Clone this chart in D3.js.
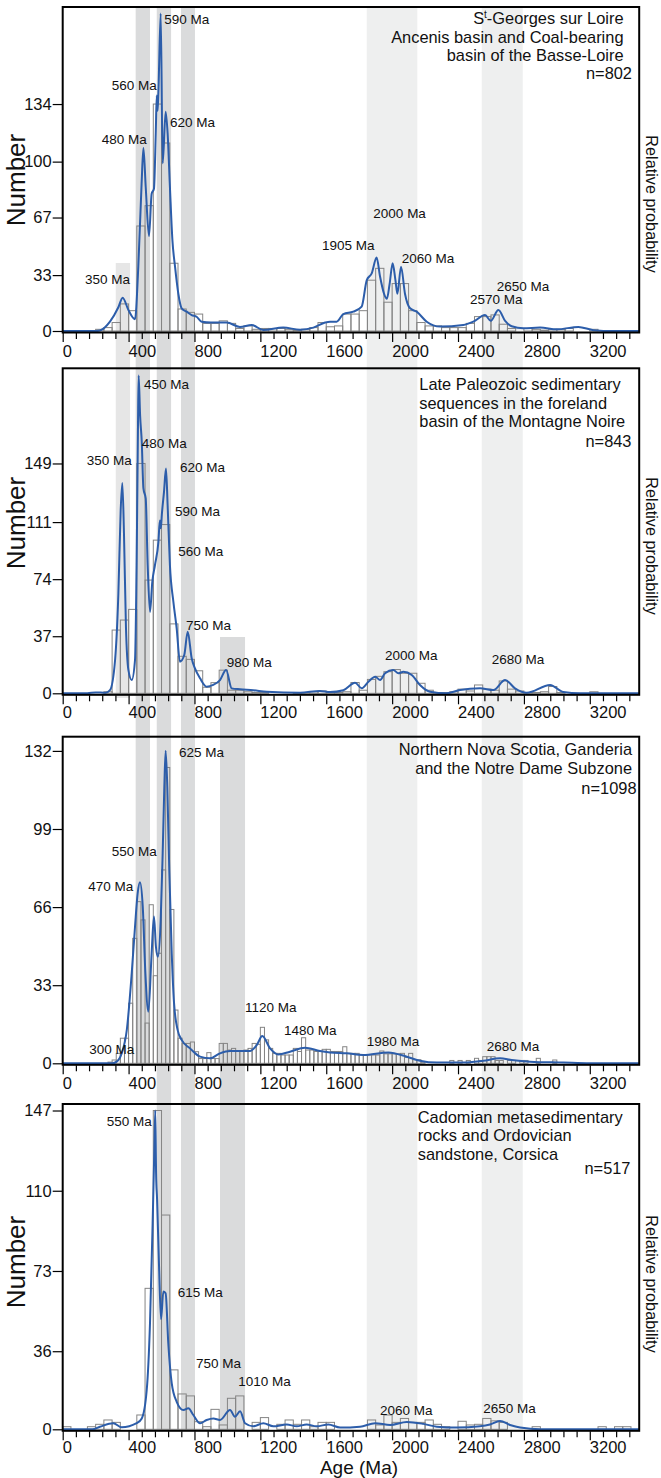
<!DOCTYPE html>
<html><head><meta charset="utf-8">
<script src="https://cdn.jsdelivr.net/npm/d3@7"></script>
<style>body{margin:0;background:#fff}text{font-family:"Liberation Sans",Arial,Helvetica,sans-serif;fill:#111}</style>
</head><body><svg id="c" width="661" height="1478"></svg>
<script>
// ---------------- DATA ----------------
const xMajorTicks = [0,400,800,1200,1600,2000,2400,2800,3200];
const xMinorTicks = d3.range(80,3500,80).filter(v=>v%400!==0);
const yTicks1 = [0,33,67,100,134];
const yTicks2 = [0,37,74,111,149];
const yTicks3 = [0,33,66,99,132];
const yTicks4 = [0,36,73,110,147];

// histograms: [start age, bin width, counts...]
const hist1Start = 200, hist1Width = 50;
const hist1 = [1,2,5,16,12,62,74,134,111,40,13,11,10,4.5,4.5,6,4.5,1.5,3,1,1.5,1.5,1.5,1,0.5,1,2,5,2.5,3,10,10,12,30,37,17,28,28,12,5,3,3,2,2,2,4.5,8.5,8.5,9.5,4,1.5,0,1.5,1,0.5,1,1,1.5,0,0,1];
const hist2Start = 250, hist2Width = 50;
const hist2 = [1,41,47.5,54.4,149,73.4,99.3,109.4,45,24,22,14.6,3.9,6.9,15,2,2,1,0.5,0.5,0,0,0,0.5,0.5,1,1.5,0.5,0.5,1,7,2,9,11,14,15.4,13,13,6.5,2,0.5,0.5,1,2.7,1.5,5.4,2.7,2,8,2.7,1.5,0.5,0.5,1,4.4,0.5,0,0,0,1];
const hist3Start = 275, hist3Width = 25;
const hist3 = [0.5,1.4,4.2,10.6,10.6,25.4,52.8,68.3,60.6,17,67,37,46.5,81.7,125,65,22.5,10.6,8.4,8.4,9,4.9,2,2,4.5,2,2,8.4,8.4,5.6,6.3,5,5,5.6,6.3,8.4,8,15.2,9.9,6.3,4.2,4.2,3.5,3.5,3.5,6.3,5,10.8,5.6,5.6,5,5,5.9,5.9,5,5,5,7,4.2,4.2,4.2,3.5,3.5,3.5,3.5,3.5,5.2,4,4,4,4,4.2,2.5,4.2,1.5,1.5,0.5,0,0,0,0,0,0,1.2,0,1.2,0,1.2,0,2.1,1.2,2.8,2.8,2.8,1.2,1.2,0,1.2,1.2,0,1.2,1.2,0,0,2.1,0,0,0,1.4];
const hist4Start = 0, hist4Width = 50;
const hist4 = [1.2,0,0,1.2,2.3,4.3,3.2,0,0,6.6,65,147,98.8,27.4,16.3,15.4,3.5,1.2,9.2,2,14.3,15.4,0,3.2,5.4,0,2.3,4.3,2.3,4.3,1.2,3.2,3.2,0,0,0,0,4.3,2,6.6,3.2,5,3.2,3.2,4.3,2.3,1.2,0,3.7,2,2.3,5,3.9,3.2,0,0,0,1.2,0,0,0,0,0,0,0,1.2,0,1.2,1.2];

// probability curves: [age, value on count axis]
const curve1 = [[0,0],[200,0],[226,0.3],[287,5.5],[338,14],[364,19.7],[399,12.4],[439,7],[459,38],[479,87],[490,108],[504,85],[524,56],[540,81],[554,84],[565,117],[571,139],[576,130],[581,141],[595,187.5],[607,99],[625,129.5],[637,116.7],[651,85],[666,53.7],[682,38],[702,22],[722,13.4],[753,11.4],[783,9.4],[813,8.4],[844,5.5],[900,5],[996,5],[1076,2.4],[1147,3.5],[1218,0.6],[1339,2],[1441,0.8],[1522,2],[1593,5],[1623,5.5],[1663,5.5],[1704,10],[1764,11.4],[1815,14.4],[1846,30],[1876,34],[1906,43.4],[1926,32.5],[1951,22],[1968,19],[1985,28],[2003,40],[2020,30],[2032,22],[2054,38],[2078,22],[2109,13.4],[2149,11.4],[2210,5.5],[2291,2.6],[2432,3.5],[2493,5.5],[2564,9.4],[2599,6],[2645,12.4],[2686,6],[2726,2.8],[2797,1.6],[2898,2],[3000,1],[3131,2.4],[3222,0.5],[3343,0],[3500,0]];
const curve2 = [[0,0],[150,0],[200,0.6],[260,0.3],[287,2],[318,21.6],[338,64.7],[352,118.7],[362,136.4],[372,103.6],[384,43],[399,15],[419,8.6],[439,21.6],[449,86],[457,172.7],[461,206],[470,180],[480,163],[490,132.8],[504,126.3],[516,83],[530,52.8],[544,72.3],[560,83],[581,98.2],[590,112],[596,107],[602,116],[615,130.6],[627,145.7],[637,122],[651,83],[672,59.3],[692,42],[712,20.5],[738,24.8],[759,39.9],[783,22.7],[803,16.2],[834,9.7],[874,4.3],[914,5.4],[955,8.6],[992,15.1],[1026,3.2],[1077,2.6],[1157,2],[1239,1],[1441,0.4],[1562,1.5],[1623,0.8],[1704,2],[1775,6.9],[1815,3.2],[1856,7.5],[1897,10.8],[1927,8.6],[1957,13],[2007,15.1],[2038,13],[2068,14],[2119,11.9],[2169,5.4],[2230,1],[2331,0],[2412,2.1],[2534,3.2],[2615,2.1],[2686,8.6],[2746,3.2],[2817,0.3],[2959,5.4],[3039,0.8],[3141,0],[3500,0]];
const curve3 = [[0,0],[300,0],[328,0.7],[358,4.2],[389,14],[419,38],[439,57.7],[455,71.8],[469,76.5],[486,66.2],[502,38],[520,21.8],[540,46.5],[554,62],[566,49.3],[578,45],[595,60.6],[607,88.8],[617,116.9],[625,132.1],[635,116.9],[647,81.7],[662,46.5],[676,25.4],[698,14],[722,9.9],[773,6.3],[834,2.8],[894,2.1],[955,4.2],[1016,5.2],[1137,5.2],[1178,7.7],[1212,11.5],[1259,6.3],[1309,3.7],[1380,4.9],[1471,6.6],[1562,5.2],[1623,4.6],[1724,4.2],[1825,3.5],[1977,4.6],[2089,2.8],[2169,1.1],[2271,0.3],[2432,0.3],[2554,1.1],[2655,2.1],[2726,1.4],[2837,0.7],[3039,0.3],[3200,0],[3500,0]];
const curve4 = [[0,0],[180,0],[226,1.2],[307,2.8],[358,0.9],[449,2.8],[480,5],[510,18],[530,48.9],[546,95],[556,128],[562,147],[567,118],[573,106],[585,75],[597,50.7],[611,63.5],[625,62.7],[641,39.7],[662,21.2],[692,12.7],[733,8.9],[763,9.7],[793,6.6],[834,2.8],[874,4.3],[915,5],[955,4.3],[1016,8.9],[1046,5.8],[1077,8.3],[1107,2.8],[1157,1.4],[1218,2.8],[1279,1.4],[1360,2.2],[1421,1.4],[1481,2.2],[1542,1.4],[1613,2.2],[1684,0.8],[1805,1.2],[1897,2.8],[1988,2],[2089,3.4],[2189,2.5],[2271,1.2],[2392,0.8],[2534,1.4],[2594,2.2],[2655,3.8],[2716,2],[2777,0.8],[2900,0],[3500,0]];

// peak labels: [text, age at label start, value at baseline]
const peaks1 = [["590 Ma",617,181.5],["560 Ma",297.5,142.3],["620 Ma",651.5,120.4],["480 Ma",236.8,110.7],["350 Ma",135.4,27.7],["1905 Ma",1574,47.8],["2000 Ma",1886,66.7],["2060 Ma",2058,40.1],["2650 Ma",2635,23.8],["2570 Ma",2473,16.2]];
const peaks2 = [["450 Ma",493.6,197.5],["480 Ma",479.7,158.9],["350 Ma",145.7,147.9],["620 Ma",712.2,143.3],["590 Ma",681.8,114.8],["560 Ma",701.9,88.9],["750 Ma",748.6,41],["980 Ma",995.7,17],["2000 Ma",1957,21.6],["2680 Ma",2605,19]];
const peaks3 = [["625 Ma",706.1,129.5],["550 Ma",297.5,87.6],["470 Ma",155.4,72.8],["1120 Ma",1107,21.7],["1480 Ma",1344,12],["300 Ma",161.5,3.9],["1980 Ma",1846,7.1],["2680 Ma",2574,5.2]];
const peaks4 = [["550 Ma",267.2,140],["615 Ma",698.2,61.2],["750 Ma",809.3,28.3],["1010 Ma",1066,20.1],["2060 Ma",1926.5,6.6],["2650 Ma",2553.7,7.5]];

const titles1 = ["S|t|-Georges sur Loire","Ancenis basin and Coal-bearing","basin of the Basse-Loire"];
const titles2 = ["Late Paleozoic sedimentary","sequences in the foreland","basin of the Montagne Noire"];
const titles3 = ["Northern Nova Scotia, Ganderia","and the Notre Dame Subzone"];
const titles4 = ["Cadomian metasedimentary","rocks and Ordovician","sandstone, Corsica"];
const nLabels = ["n=802","n=843","n=1098","n=517"];

// age bands (Ma)
const bandAges = [[322,409],[443,530],[571,658],[718,803],[955,1107],[1846,2153],[2544,2793]];

// ---------------- LAYOUT ----------------
const svg = d3.select("#c");
svg.append("rect").attr("width",661).attr("height",1478).attr("fill","#fff");
const x = d3.scaleLinear().domain([0,3500]).range([62.7,639.2]);

const bandStyle = [
  {y1:263,y2:698,fill:"#e6e6e6"},
  {y1:7,y2:1066,fill:"#dadbdc"},
  {y1:7,y2:1431,fill:"#dadbdc"},
  {y1:7,y2:1431,fill:"#dadbdc"},
  {y1:637,y2:1431,fill:"#dadbdc"},
  {y1:7,y2:1431,fill:"#eeefef"},
  {y1:7,y2:1431,fill:"#eeefef"}
];
svg.append("g").selectAll("rect").data(bandAges).join("rect")
  .attr("x",d=>x(d[0])).attr("width",d=>x(d[1])-x(d[0]))
  .attr("y",(d,i)=>bandStyle[i].y1).attr("height",(d,i)=>bandStyle[i].y2-bandStyle[i].y1)
  .attr("fill",(d,i)=>bandStyle[i].fill);

const panels = [
  {top:7, y0:331, ymax:191.3, yt:yTicks1, hs:hist1Start, hw:hist1Width, h:hist1, c:curve1, pk:peaks1, t:titles1, tAnchor:"end", tx:623.5, ty:24, n:nLabels[0], nx:632, ny:79, num:180, rel:204, pad:3},
  {top:368.3, y0:693.3, ymax:210.7, yt:yTicks2, hs:hist2Start, hw:hist2Width, h:hist2, c:curve2, pk:peaks2, t:titles2, tAnchor:"start", tx:419.3, ty:390, n:nLabels[1], nx:631.5, ny:447, num:523, rel:546, pad:2},
  {top:736.7, y0:1063.3, ymax:138, yt:yTicks3, hs:hist3Start, hw:hist3Width, h:hist3, c:curve3, pk:peaks3, t:titles3, tAnchor:"end", tx:632, ty:755, n:nLabels[2], nx:636.5, ny:794, num:null, rel:null, pad:3},
  {top:1104, y0:1429.3, ymax:150, yt:yTicks4, hs:hist4Start, hw:hist4Width, h:hist4, c:curve4, pk:peaks4, t:titles4, tAnchor:"start", tx:417.7, ty:1122.7, n:nLabels[3], nx:630.5, ny:1174, num:1262, rel:1284, pad:1}
];

panels.forEach((p,pi)=>{
  const y = d3.scaleLinear().domain([0,p.ymax]).range([p.y0,p.top]);
  const g = svg.append("g");
  // histogram
  const bins = p.h.map((v,i)=>({a:p.hs+i*p.hw,b:p.hs+(i+1)*p.hw,v})).filter(d=>d.v>0);
  g.append("g").selectAll("rect").data(bins).join("rect")
    .attr("x",d=>x(d.a)).attr("width",d=>x(d.b)-x(d.a))
    .attr("y",d=>y(d.v)).attr("height",d=>y(0)-y(d.v))
    .attr("fill","none").attr("stroke","#858585").attr("stroke-width",1);
  // curve
  g.append("path").datum(p.c)
    .attr("d",d3.line().x(d=>x(d[0])).y(d=>y(d[1])).curve(d3.curveMonotoneX))
    .attr("fill","none").attr("stroke","#2c5daa").attr("stroke-width",2).attr("stroke-linejoin","round");
  // frame
  g.append("rect").attr("x",x(0)).attr("y",p.top).attr("width",x(3500)-x(0)).attr("height",p.y0+1.5-p.top)
    .attr("fill","none").attr("stroke","#000").attr("stroke-width",2);
  // y axis
  const ya = g.append("g").attr("transform",`translate(${x(0)},0)`)
    .call(d3.axisLeft(y).tickValues(p.yt).tickSize(10).tickPadding(1).tickFormat(d3.format("d")));
  ya.select(".domain").remove();
  ya.selectAll("line").attr("stroke","#000").attr("stroke-width",1.2);
  ya.selectAll("text").style("font-size","16.5px").attr("fill","#111");
  // x axis
  const xaG = g.append("g").attr("transform",`translate(0,${p.y0+2})`);
  const xa = xaG.append("g").call(d3.axisBottom(x).tickValues(xMajorTicks).tickSize(9).tickPadding(p.pad).tickFormat(d3.format("d")));
  xa.select(".domain").remove();
  xa.selectAll("line").attr("stroke","#000").attr("stroke-width",1.2);
  xa.selectAll("text").attr("text-anchor","start").attr("x",-0.5).style("font-size","16.5px").attr("fill","#111");
  const xm = xaG.append("g").call(d3.axisBottom(x).tickValues(xMinorTicks).tickSize(6).tickFormat(""));
  xm.select(".domain").remove();
  xm.selectAll("line").attr("stroke","#000").attr("stroke-width",1.2);
  // peak labels
  g.append("g").selectAll("text").data(p.pk).join("text")
    .attr("x",d=>x(d[1])).attr("y",d=>y(d[2])).text(d=>d[0])
    .style("font-size","13.5px");
  // titles
  const tg = g.append("g").style("font-size","16.4px");
  p.t.forEach((line,i)=>{
    const t = tg.append("text").attr("x",p.tx).attr("y",p.ty+i*18.6).attr("text-anchor",p.tAnchor);
    if(line.includes("|")){
      const parts=line.split("|");
      t.append("tspan").text(parts[0]);
      t.append("tspan").attr("dy",-6).style("font-size","10px").text(parts[1]);
      t.append("tspan").attr("dy",6).text(parts[2]);
    } else t.text(line);
  });
  tg.append("text").attr("x",p.nx).attr("y",p.ny).attr("text-anchor","end").text(p.n);
  // axis titles
  if(p.num!==null){
    g.append("text").attr("transform",`translate(25,${p.num}) rotate(-90)`).attr("text-anchor","middle")
      .style("font-size","26px").text("Number");
  }
  if(p.rel!==null){
    g.append("text").attr("transform",`translate(646,${p.rel}) rotate(90)`).attr("text-anchor","middle")
      .style("font-size","16.3px").text("Relative probability");
  }
});
svg.append("text").attr("x",359).attr("y",1474).attr("text-anchor","middle").style("font-size","19px").text("Age (Ma)");
</script>
</body></html>
